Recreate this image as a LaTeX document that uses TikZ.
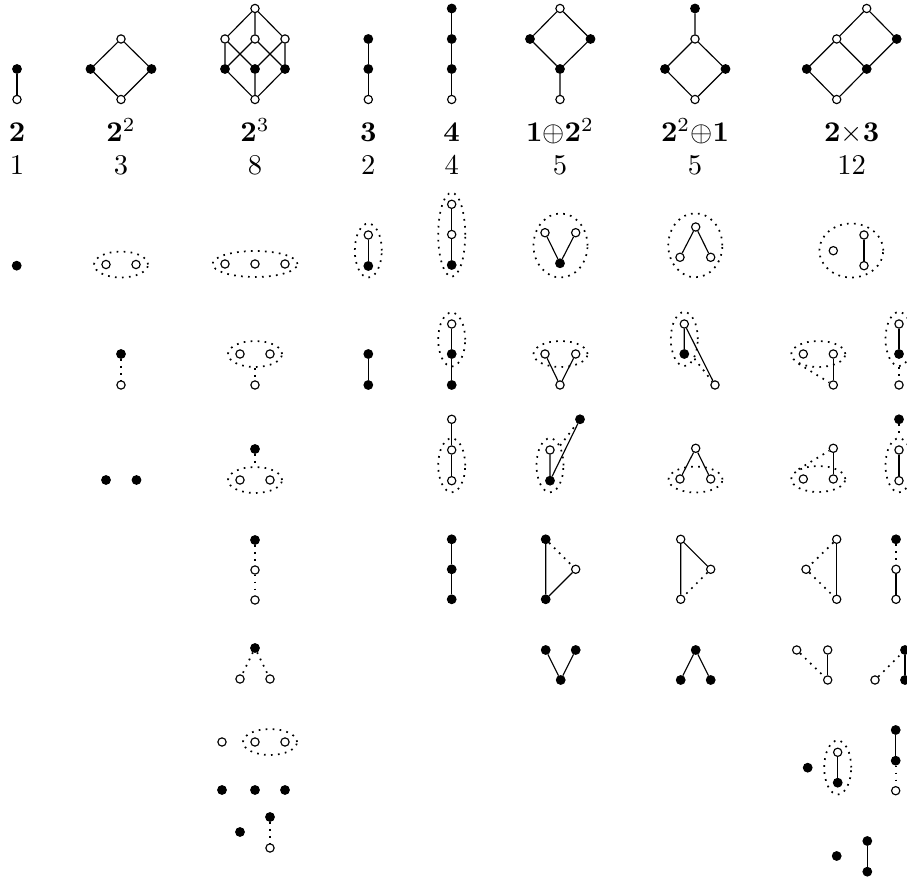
\documentclass[tikz,border=0pt]{standalone}
\usepackage{amsmath,amssymb}
\usetikzlibrary{shapes.geometric}

\tikzset{
  fdot/.style={circle,draw=black,fill=black,inner sep=0pt,minimum size=3pt},
  odot/.style={circle,draw=black,fill=white,line width=0.4pt,inner sep=0pt,minimum size=2.9pt},
  cov/.style={line width=0.4pt},
  dotl/.style={line width=0.6pt,dash pattern=on 0.6pt off 1.85pt},
  grp/.style={draw,ellipse,dotl,inner sep=0pt},
  hpair/.style={grp,minimum width=18.9pt,minimum height=9.1pt},
  htrip/.style={grp,minimum width=29.75pt,minimum height=9.1pt},
  vpair/.style={grp,minimum width=9.45pt,minimum height=18.9pt},
  vtrip/.style={grp,minimum width=9.45pt,minimum height=29.4pt},
  vee/.style={grp,minimum width=18.9pt,minimum height=22.4pt},
  wideg/.style={grp,minimum width=22.4pt,minimum height=18.9pt},
  lbl/.style={anchor=base,inner sep=0pt},
}

\begin{document}
\begin{tikzpicture}[x=0.35pt,y=-0.35pt]
  \useasboundingbox (0,0) rectangle (907,881);
  \clip (0,0) rectangle (907,881);

  % the eight lattices
  \node[fdot] (h11) at (17,69) {};
  \node[odot] (h12) at (17,99.5) {};
  \draw[cov] (h11) -- (h12);

  \node[odot] (h21) at (121,39) {};
  \node[fdot] (h22) at (90.5,69) {};
  \node[fdot] (h23) at (151.5,69) {};
  \node[odot] (h24) at (121,99.5) {};
  \draw[cov] (h21) -- (h22) -- (h24) -- (h23) -- (h21);

  \node[odot] (h31) at (255,8.5) {};
  \node[odot] (h32) at (225,39) {};
  \node[odot] (h33) at (255,39) {};
  \node[odot] (h34) at (285,39) {};
  \node[fdot] (h35) at (225,69) {};
  \node[fdot] (h36) at (255,69) {};
  \node[fdot] (h37) at (285,69) {};
  \node[odot] (h38) at (255,99.5) {};
  \draw[cov] (h31) -- (h32) (h31) -- (h33) (h31) -- (h34);
  \draw[cov] (h32) -- (h35) (h32) -- (h36) (h33) -- (h35) (h33) -- (h37);
  \draw[cov] (h34) -- (h36) (h34) -- (h37);
  \draw[cov] (h38) -- (h35) (h38) -- (h36) (h38) -- (h37);

  \node[fdot] (h41) at (368.3,39) {};
  \node[fdot] (h42) at (368.3,69) {};
  \node[odot] (h43) at (368.3,99.5) {};
  \draw[cov] (h41) -- (h42) -- (h43);

  \node[fdot] (h51) at (451.7,8.5) {};
  \node[fdot] (h52) at (451.7,39) {};
  \node[fdot] (h53) at (451.7,69) {};
  \node[odot] (h54) at (451.7,99.5) {};
  \draw[cov] (h51) -- (h52) -- (h53) -- (h54);

  \node[odot] (h61) at (560,8.5) {};
  \node[fdot] (h62) at (530,39) {};
  \node[fdot] (h63) at (590.5,39) {};
  \node[fdot] (h64) at (560,69) {};
  \node[odot] (h65) at (560,99.5) {};
  \draw[cov] (h61) -- (h62) -- (h64) -- (h63) -- (h61) (h64) -- (h65);

  \node[fdot] (h71) at (695,8.5) {};
  \node[odot] (h72) at (695,39) {};
  \node[fdot] (h73) at (665,69) {};
  \node[fdot] (h74) at (725.5,69) {};
  \node[odot] (h75) at (695,99.5) {};
  \draw[cov] (h71) -- (h72) -- (h73) -- (h75) -- (h74) -- (h72);

  \node[odot] (h81) at (866.7,8.5) {};
  \node[odot] (h82) at (836.7,39) {};
  \node[fdot] (h83) at (896.7,39) {};
  \node[fdot] (h84) at (806.7,69) {};
  \node[fdot] (h85) at (866.7,69) {};
  \node[odot] (h86) at (836.7,99.5) {};
  \draw[cov] (h81) -- (h82) -- (h84) -- (h86) -- (h85) -- (h83) -- (h81) (h82) -- (h85);

  % names and counts
  \node[lbl] (t1) at (17,142) {$\mathbf{2}$};
  \node[lbl] (t2) at (121,142) {$\mathbf{2}^2$};
  \node[lbl] (t3) at (255,142) {$\mathbf{2}^3$};
  \node[lbl] (t4) at (368.3,142) {$\mathbf{3}$};
  \node[lbl] (t5) at (451.7,142) {$\mathbf{4}$};
  \node[lbl] (t6) at (560,142) {$\mathbf{1}{\oplus}\mathbf{2}^2$};
  \node[lbl] (t7) at (695,142) {$\mathbf{2}^2{\oplus}\mathbf{1}$};
  \node[lbl] (t8) at (851.7,142) {$\mathbf{2}{\times}\mathbf{3}$};
  \node[lbl] (c1) at (17,175) {1};
  \node[lbl] (c2) at (121,175) {3};
  \node[lbl] (c3) at (255,175) {8};
  \node[lbl] (c4) at (368.3,175) {2};
  \node[lbl] (c5) at (451.7,175) {4};
  \node[lbl] (c6) at (560,175) {5};
  \node[lbl] (c7) at (695,175) {5};
  \node[lbl] (c8) at (851.7,175) {12};

  % column 2
  \node[fdot] (s1a1) at (16.7,265.7) {};

  % column 2^2
  \node[hpair] (g2a) at (121,264.5) {};
  \node[odot] (s2a1) at (106,264.5) {};
  \node[odot] (s2a2) at (136,264.5) {};
  \node[fdot] (s2b1) at (121,354) {};
  \node[odot] (s2b2) at (121,385) {};
  \draw[dotl] (s2b1) -- (s2b2);
  \node[fdot] (s2c1) at (106,480) {};
  \node[fdot] (s2c2) at (136.5,480) {};

  % column 2^3
  \node[htrip] (g3a) at (255,264) {};
  \node[odot] (s3a1) at (225,264) {};
  \node[odot] (s3a2) at (255,264) {};
  \node[odot] (s3a3) at (285,264) {};
  \node[hpair] (g3b) at (255,354) {};
  \node[odot] (s3b1) at (240,354) {};
  \node[odot] (s3b2) at (270,354) {};
  \node[odot] (s3b3) at (255,385) {};
  \draw[dotl] (g3b.south) -- (s3b3);
  \node[fdot] (s3c1) at (255,449) {};
  \node[hpair] (g3c) at (255,480) {};
  \node[odot] (s3c2) at (240,480) {};
  \node[odot] (s3c3) at (270,480) {};
  \draw[dotl] (s3c1) -- (g3c.north);
  \node[fdot] (s3d1) at (255,540) {};
  \node[odot] (s3d2) at (255,570) {};
  \node[odot] (s3d3) at (255,600) {};
  \draw[dotl] (s3d1) -- (s3d2) (s3d2) -- (s3d3);
  \node[fdot] (s3e1) at (255,648) {};
  \node[odot] (s3e2) at (240,679) {};
  \node[odot] (s3e3) at (270,679) {};
  \draw[dotl] (s3e1) -- (s3e2) (s3e1) -- (s3e3);
  \node[odot] (s3f1) at (222,742) {};
  \node[hpair] (g3f) at (270,742) {};
  \node[odot] (s3f2) at (255,742) {};
  \node[odot] (s3f3) at (285,742) {};
  \node[fdot] (s3g1) at (222,790) {};
  \node[fdot] (s3g2) at (255,790) {};
  \node[fdot] (s3g3) at (285,790) {};
  \node[fdot] (s3h1) at (240,832) {};
  \node[fdot] (s3h2) at (270,817) {};
  \node[odot] (s3h3) at (270,848) {};
  \draw[dotl] (s3h2) -- (s3h3);

  % column 3
  \node[vpair] (g4a) at (368.3,250.5) {};
  \node[odot] (s4a1) at (368.3,235) {};
  \node[fdot] (s4a2) at (368.3,266) {};
  \draw[cov] (s4a1) -- (s4a2);
  \node[fdot] (s4b1) at (368.3,354) {};
  \node[fdot] (s4b2) at (368.3,385) {};
  \draw[cov] (s4b1) -- (s4b2);

  % column 4
  \node[vtrip] (g5a) at (451.7,234.7) {};
  \node[odot] (s5a1) at (451.7,204.3) {};
  \node[odot] (s5a2) at (451.7,234.5) {};
  \node[fdot] (s5a3) at (451.7,265) {};
  \draw[cov] (s5a1) -- (s5a2) -- (s5a3);
  \node[vpair] (g5b) at (451.7,339.5) {};
  \node[odot] (s5b1) at (451.7,324) {};
  \node[fdot] (s5b2) at (451.7,354) {};
  \node[fdot] (s5b3) at (451.7,385) {};
  \draw[cov] (s5b1) -- (s5b2) -- (s5b3);
  \node[vpair] (g5c) at (451.7,465.3) {};
  \node[odot] (s5c1) at (451.7,419.3) {};
  \node[odot] (s5c2) at (451.7,450) {};
  \node[odot] (s5c3) at (451.7,480.7) {};
  \draw[cov] (s5c1) -- (s5c2) -- (s5c3);
  \node[fdot] (s5d1) at (451.7,539.3) {};
  \node[fdot] (s5d2) at (451.7,569.3) {};
  \node[fdot] (s5d3) at (451.7,599.3) {};
  \draw[cov] (s5d1) -- (s5d2) -- (s5d3);

  % column 1+2^2
  \node[vee] (g6a) at (560.5,245.5) {};
  \node[odot] (s6a1) at (545,232.7) {};
  \node[odot] (s6a2) at (575.7,232.7) {};
  \node[fdot] (s6a3) at (560,263.3) {};
  \draw[cov] (s6a1) -- (s6a3) -- (s6a2);
  \node[hpair] (g6b) at (560.5,354) {};
  \node[odot] (s6b1) at (545,354) {};
  \node[odot] (s6b2) at (575.7,354) {};
  \node[odot] (s6b3) at (560,385) {};
  \draw[cov] (s6b1) -- (s6b3) -- (s6b2);
  \node[vpair] (g6c) at (550,465.3) {};
  \node[fdot] (s6c1) at (580,419.3) {};
  \node[odot] (s6c2) at (550,450) {};
  \node[fdot] (s6c3) at (550,480.7) {};
  \draw[cov] (s6c2) -- (s6c3) -- (s6c1);
  \draw[dotl] (g6c.north east) -- (s6c1);
  \node[fdot] (s6d1) at (545.7,539.3) {};
  \node[odot] (s6d2) at (575.7,569.3) {};
  \node[fdot] (s6d3) at (545.7,599.3) {};
  \draw[cov] (s6d1) -- (s6d3) -- (s6d2);
  \draw[dotl] (s6d1) -- (s6d2);
  \node[fdot] (s6e1) at (545.7,650) {};
  \node[fdot] (s6e2) at (575.7,650) {};
  \node[fdot] (s6e3) at (560.7,680) {};
  \draw[cov] (s6e1) -- (s6e3) -- (s6e2);

  % column 2^2+1
  \node[vee] (g7a) at (695.3,245.3) {};
  \node[odot] (s7a1) at (695.7,227) {};
  \node[odot] (s7a2) at (680,257.3) {};
  \node[odot] (s7a3) at (710.7,257.3) {};
  \draw[cov] (s7a2) -- (s7a1) -- (s7a3);
  \node[vpair] (g7b) at (684.3,339) {};
  \node[odot] (s7b1) at (684.3,324) {};
  \node[fdot] (s7b2) at (684.3,354) {};
  \node[odot] (s7b3) at (715,385) {};
  \draw[cov] (s7b2) -- (s7b1) -- (s7b3);
  \draw[dotl] (g7b.south east) -- (s7b3);
  \node[hpair] (g7c) at (695.5,479.5) {};
  \node[odot] (s7c1) at (695.7,448.3) {};
  \node[odot] (s7c2) at (680,479) {};
  \node[odot] (s7c3) at (710.7,479) {};
  \draw[cov] (s7c2) -- (s7c1) -- (s7c3);
  \node[odot] (s7d1) at (680.7,539.3) {};
  \node[odot] (s7d2) at (710.7,569.3) {};
  \node[odot] (s7d3) at (680.7,599.3) {};
  \draw[cov] (s7d3) -- (s7d1) -- (s7d2);
  \draw[dotl] (s7d2) -- (s7d3);
  \node[fdot] (s7e1) at (695.7,650) {};
  \node[fdot] (s7e2) at (680.7,680) {};
  \node[fdot] (s7e3) at (710.7,680) {};
  \draw[cov] (s7e2) -- (s7e1) -- (s7e3);

  % column 2x3
  \node[wideg] (g8a) at (851.3,250.5) {};
  \node[odot] (s8a1) at (833.3,250.7) {};
  \node[odot] (s8a2) at (864,235) {};
  \node[odot] (s8a3) at (864,265.7) {};
  \draw[cov] (s8a2) -- (s8a3);
  \node[hpair] (g8b) at (818.3,354) {};
  \node[odot] (s8b1) at (803.3,354) {};
  \node[odot] (s8b2) at (833.3,354) {};
  \node[odot] (s8b3) at (833.3,385) {};
  \draw[cov] (s8b2) -- (s8b3);
  \draw[dotl] (g8b.south west) -- (s8b3);
  \node[hpair] (g8c) at (818.3,479) {};
  \node[odot] (s8c1) at (833.3,448.3) {};
  \node[odot] (s8c2) at (803.3,479) {};
  \node[odot] (s8c3) at (833.3,479) {};
  \draw[cov] (s8c1) -- (s8c3);
  \draw[dotl] (g8c.north west) -- (s8c1);
  \node[odot] (s8d1) at (836.7,539.3) {};
  \node[odot] (s8d2) at (806,569.3) {};
  \node[odot] (s8d3) at (836.7,599.3) {};
  \draw[cov] (s8d1) -- (s8d3);
  \draw[dotl] (s8d1) -- (s8d2) -- (s8d3);
  \node[odot] (s8e1) at (796.7,650) {};
  \node[odot] (s8e2) at (827.7,650) {};
  \node[odot] (s8e3) at (827.7,680) {};
  \draw[cov] (s8e2) -- (s8e3);
  \draw[dotl] (s8e1) -- (s8e3);
  \node[fdot] (s8f1) at (807.7,767.7) {};
  \node[vpair] (g8f) at (837.7,767.5) {};
  \node[odot] (s8f2) at (837.7,752.3) {};
  \node[fdot] (s8f3) at (837.7,782.7) {};
  \draw[cov] (s8f2) -- (s8f3);
  \node[fdot] (s8g1) at (836.7,856) {};
  \node[fdot] (s8g2) at (867.3,841) {};
  \node[fdot] (s8g3) at (867.3,871.7) {};
  \draw[cov] (s8g2) -- (s8g3);

  % 2x3, second column (runs off the edge)
  \node[vpair] (g9b) at (899,339) {};
  \node[odot] (s9b1) at (899,324) {};
  \node[fdot] (s9b2) at (899,354) {};
  \node[odot] (s9b3) at (899,385) {};
  \draw[cov] (s9b1) -- (s9b2);
  \draw[dotl] (g9b.south) -- (s9b3);
  \node[fdot] (s9c1) at (899,419.3) {};
  \node[vpair] (g9c) at (899,465.3) {};
  \node[odot] (s9c2) at (899,450) {};
  \node[odot] (s9c3) at (899,480.7) {};
  \draw[cov] (s9c2) -- (s9c3);
  \draw[dotl] (s9c1) -- (g9c.north);
  \node[fdot] (s9d1) at (896,539.3) {};
  \node[odot] (s9d2) at (896,569.3) {};
  \node[odot] (s9d3) at (896,599.3) {};
  \draw[dotl] (s9d1) -- (s9d2);
  \draw[cov] (s9d2) -- (s9d3);
  \node[odot] (s9e1) at (875,680) {};
  \node[fdot] (s9e2) at (905,650) {};
  \node[fdot] (s9e3) at (905,680) {};
  \draw[dotl] (s9e1) -- (s9e2);
  \draw[cov] (s9e2) -- (s9e3);
  \node[fdot] (s9f1) at (895.7,730) {};
  \node[fdot] (s9f2) at (895.7,760.7) {};
  \node[odot] (s9f3) at (895.7,790.7) {};
  \draw[cov] (s9f1) -- (s9f2);
  \draw[dotl] (s9f2) -- (s9f3);
\end{tikzpicture}
\end{document}
